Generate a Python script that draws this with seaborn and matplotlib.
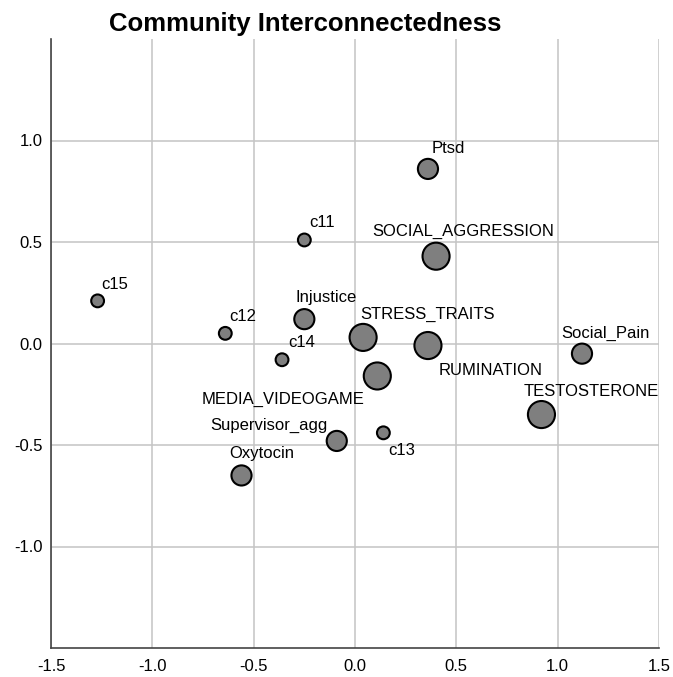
import matplotlib
matplotlib.use("Agg")
import matplotlib.pyplot as plt
import seaborn as sns
import pandas as pd

# node names, coordinates and size class
nodes = ["c15", "c12", "c11", "Injustice", "c14", "Ptsd", "SOCIAL_AGGRESSION",
         "STRESS_TRAITS", "RUMINATION", "Social_Pain", "MEDIA_VIDEOGAME",
         "c13", "Supervisor_agg", "Oxytocin", "TESTOSTERONE"]
x_vals = [-1.27, -0.64, -0.25, -0.25, -0.36, 0.36, 0.40,
          0.04, 0.36, 1.12, 0.11,
          0.14, -0.09, -0.56, 0.92]
y_vals = [0.21, 0.05, 0.51, 0.12, -0.08, 0.86, 0.43,
          0.03, -0.01, -0.05, -0.16,
          -0.44, -0.48, -0.65, -0.35]
weight = [1, 1, 1, 2, 1, 2, 3,
          3, 3, 2, 3,
          1, 2, 2, 3]

x_ticks = [-1.5, -1.0, -0.5, 0.0, 0.5, 1.0, 1.5]
y_ticks = [-1.0, -0.5, 0.0, 0.5, 1.0]

df = pd.DataFrame({"node": nodes, "x": x_vals, "y": y_vals, "w": weight})

# label placement (pixel offsets from the marker centre, alignment)
label_pos = {
    "c15": (4, 18, "left"),
    "c12": (4, 18, "left"),
    "c11": (5, 19, "left"),
    "Injustice": (-9, 23, "left"),
    "c14": (6, 19, "left"),
    "Ptsd": (4, 22, "left"),
    "SOCIAL_AGGRESSION": (-64, 26, "left"),
    "STRESS_TRAITS": (-3, 24, "left"),
    "RUMINATION": (11, -23, "left"),
    "Social_Pain": (-21, 22, "left"),
    "MEDIA_VIDEOGAME": (-13, -22, "right"),
    "c13": (5, -16, "left"),
    "Supervisor_agg": (-9, 17, "right"),
    "Oxytocin": (-12, 23, "left"),
    "TESTOSTERONE": (-18, 25, "left"),
}

sns.set_style("white")
plt.rcParams["font.family"] = ["Liberation Sans", "DejaVu Sans"]
plt.rcParams["text.color"] = "black"

fig = plt.figure(figsize=(6.73, 6.77), dpi=100)
ax = fig.add_axes([51 / 673, 1 - 648 / 677, 608 / 673, 609 / 677])

sns.scatterplot(data=df, x="x", y="y", size="w", sizes={1: 85, 2: 210, 3: 380},
                color="#7f7f7f", edgecolor="black", linewidth=1.5,
                legend=False, zorder=3, ax=ax)

for _, row in df.iterrows():
    dx, dy, ha = label_pos[row["node"]]
    ax.annotate(row["node"], (row["x"], row["y"]), xytext=(dx, dy - 1.5),
                textcoords="offset pixels", ha=ha, va="center",
                fontsize=12, color="black", zorder=4)

ax.set_xlim(-1.5, 1.5)
ax.set_ylim(-1.5, 1.5)
ax.set_xticks(x_ticks)
ax.set_yticks(y_ticks)
ax.set_xticklabels([f"{t:.1f}" for t in x_ticks])
ax.set_yticklabels([f"{t:.1f}" for t in y_ticks])
ax.set_xlabel("")
ax.set_ylabel("")
ax.grid(True, color="#c4c4c4", linewidth=1.1)
ax.set_axisbelow(True)
ax.tick_params(length=0, labelsize=12, colors="black")
ax.tick_params(axis="x", pad=8)
ax.tick_params(axis="y", pad=6)
for s in ["top", "right"]:
    ax.spines[s].set_visible(False)
for s in ["left", "bottom"]:
    ax.spines[s].set_color("#444444")
    ax.spines[s].set_linewidth(1.2)

fig.text(109 / 673, 1 - 31 / 677, "Community Interconnectedness",
         fontsize=18.5, fontweight="bold", color="black",
         ha="left", va="baseline")

fig.savefig("out.png", dpi=100)
